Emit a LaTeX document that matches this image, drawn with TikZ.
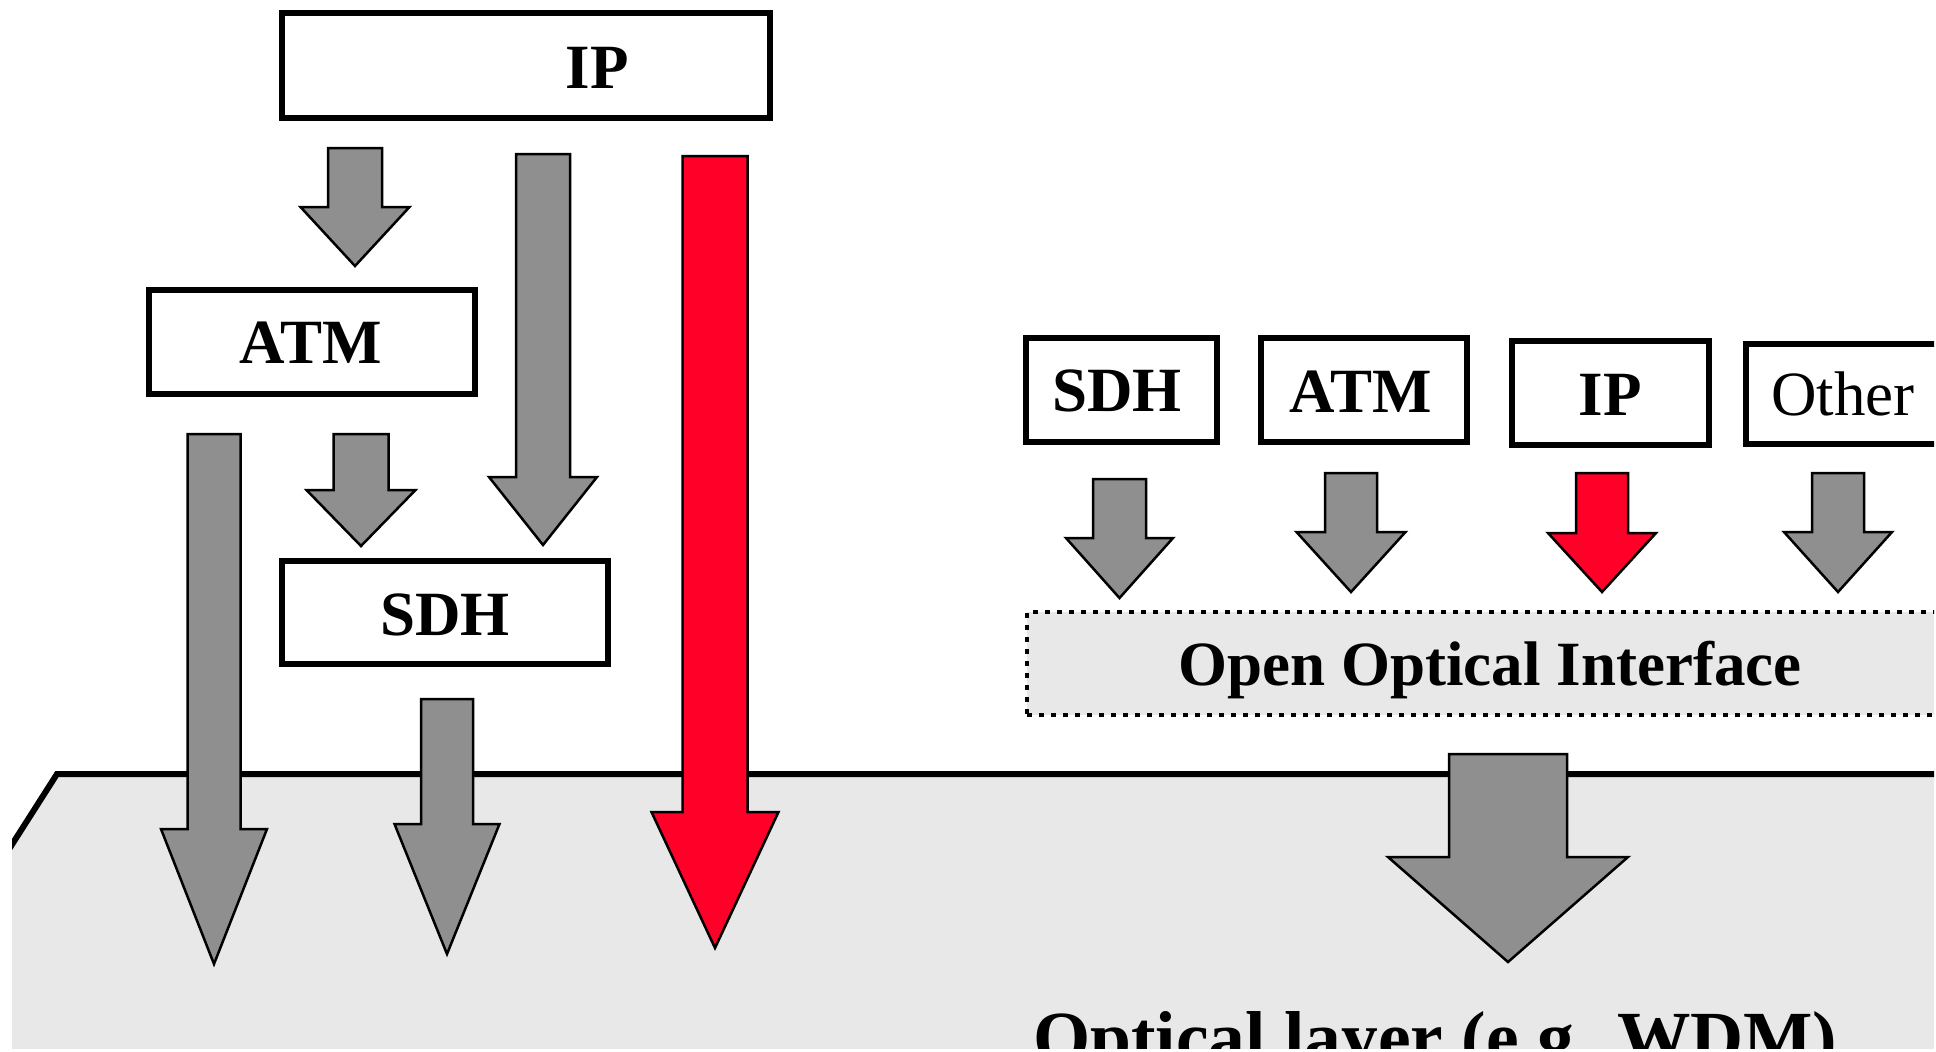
\documentclass[tikz,border=0pt]{standalone}
\usepackage{fontspec}
\setmainfont{Liberation Serif}
\definecolor{arrowgray}{RGB}{143,143,143}
\definecolor{arrowred}{RGB}{255,0,40}
\definecolor{layergray}{RGB}{232,232,232}
\tikzset{
  boxframe/.style={draw=black, line width=6pt, fill=white, inner sep=0pt, outer sep=0pt},
  lbl/.style={font=\fontsize{63}{70}\selectfont\bfseries, anchor=base, inner sep=0pt},
  lblplain/.style={font=\fontsize{63}{70}\selectfont, anchor=base, inner sep=0pt},
  fatgray/.style={fill=arrowgray, draw=black, line width=2.5pt},
  fatred/.style={fill=arrowred, draw=black, line width=2.5pt},
  oibox/.style={fill=layergray, draw=black, line width=4pt, dash pattern=on 5pt off 7pt, inner sep=0pt},
}
% block arrow: style, centre x, half shaft width, top, shoulder, half head width, tip
\newcommand\fatarrow[7]{%
  \path[#1] ({#2-#3},#4) -- ({#2+#3},#4) -- ({#2+#3},#5) -- ({#2+#6},#5)
    -- (#2,#7) -- ({#2-#6},#5) -- ({#2-#3},#5) -- cycle;}
\begin{document}
\begin{tikzpicture}[x=1pt,y=-1pt]
\useasboundingbox (0,0) rectangle (1936,1052);
\begin{scope}
\clip (12,-20) rectangle (1934,1048);

% optical layer slab
\path[fill=layergray] (-40,926) -- (57,774) -- (2100,774) -- (2100,1100) -- (-40,1100) -- cycle;
\draw[line width=6pt, line join=miter] (-40,926) -- (57,774) -- (2100,774);
\node[font=\fontsize{73.5}{80}\selectfont\bfseries, anchor=base west, inner sep=0pt]
  (optlabel) at (1033,1062) {Optical layer (e.g. WDM)};

% left-hand stack
\node[boxframe, minimum width=488pt, minimum height=105pt] (ipTop) at (526,65.5) {};
\node[lbl] (ipTopTxt) at (597,88) {IP};
\node[boxframe, minimum width=326pt, minimum height=104pt] (atmL) at (312,342) {};
\node[lbl] (atmLTxt) at (311,363) {ATM};
\node[boxframe, minimum width=326pt, minimum height=103pt] (sdhL) at (445,612.5) {};
\node[lbl] (sdhLTxt) at (445,635) {SDH};

\fatarrow{fatgray}{355}{27}{148}{207}{54.5}{266}
\fatarrow{fatgray}{543}{27}{154}{477}{54}{545}
\fatarrow{fatred}{715}{32.5}{156}{812}{63.5}{948}
\fatarrow{fatgray}{361}{27.5}{434}{490}{54.5}{546}
\fatarrow{fatgray}{214}{26.5}{434}{829}{53}{964}
\fatarrow{fatgray}{447}{26}{699}{824}{52.5}{954}

% right-hand clients
\node[boxframe, minimum width=191pt, minimum height=104pt] (sdhR) at (1121.5,390) {};
\node[lbl] (sdhRTxt) at (1117,411) {SDH};
\node[boxframe, minimum width=206pt, minimum height=104pt] (atmR) at (1364,390) {};
\node[lbl] (atmRTxt) at (1361,412) {ATM};
\node[boxframe, minimum width=197pt, minimum height=104pt] (ipR) at (1610.5,393) {};
\node[lbl] (ipRTxt) at (1610,415) {IP};
\node[boxframe, minimum width=260pt, minimum height=100pt] (otherR) at (1876,394) {};
\node[lblplain] (otherRTxt) at (1843,415) {Other};

\fatarrow{fatgray}{1119.5}{26.5}{479}{538}{53.5}{598}
\fatarrow{fatgray}{1351}{26}{473}{532}{54.5}{592}
\fatarrow{fatred}{1602}{26}{473}{533}{54}{592}
\fatarrow{fatgray}{1838}{26}{473}{532}{54}{592}

% open optical interface
\node[oibox, minimum width=1100pt, minimum height=103pt] (ooi) at (1577,663.5) {};
\node[lbl] (ooiTxt) at (1490,685) {Open Optical Interface};

\fatarrow{fatgray}{1508}{59}{754}{857}{120}{962}
\end{scope}
\end{tikzpicture}
\end{document}
